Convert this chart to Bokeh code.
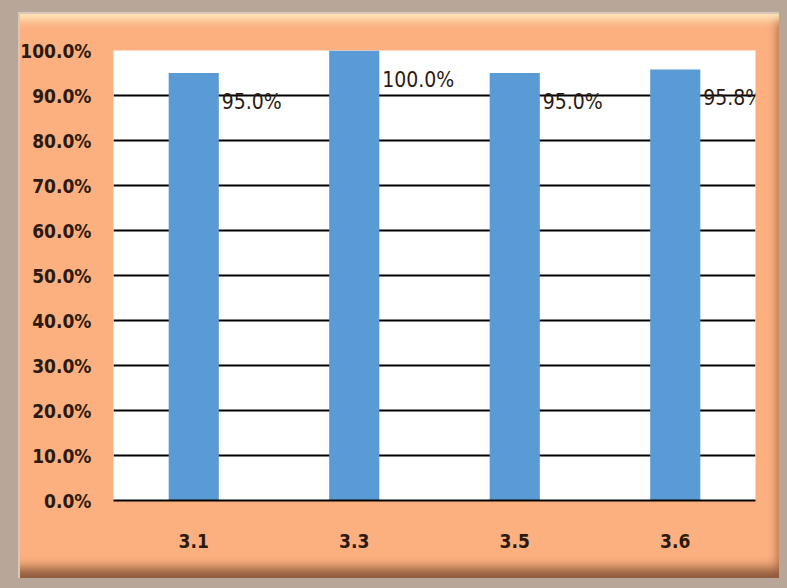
from bokeh.plotting import figure
from bokeh.models import ColumnDataSource, FixedTicker, NumeralTickFormatter, Range1d, FactorRange
from bokeh.core.properties import value
from bokeh.embed import file_html
from bokeh.resources import INLINE

categories = ["3.1", "3.3", "3.5", "3.6"]
rates = [0.95, 1.00, 0.95, 0.958]
labels = ["95.0%", "100.0%", "95.0%", "95.8%"]
y_ticks = [0.0, 0.1, 0.2, 0.3, 0.4, 0.5, 0.6, 0.7, 0.8, 0.9, 1.0]

PEACH = "#FCB07F"
GRAY = "#B8A698"
TEXT = "#2B1A10"
BLUE = "#5B9BD5"
FONT = "DejaVu Sans Condensed"

src = ColumnDataSource(dict(cat=categories, rate=rates, label=labels))

p = figure(
    x_range=FactorRange(*categories, range_padding=0.0),
    y_range=Range1d(0, 1.0),
    width=787, height=588,
    min_border_left=113, min_border_right=32, min_border_top=50, min_border_bottom=88,
    output_backend="svg", toolbar_location=None,
    background_fill_color="white",
    border_fill_color=PEACH, border_fill_alpha=0.0,
    outline_line_color=None,
)
p.styles = {
    "background-color": PEACH,
    "box-shadow": (
        f"inset 18px 0 0 0 {GRAY}, inset 0 12px 0 0 {GRAY}, "
        f"inset -8px 0 0 0 {GRAY}, inset 0 -10px 0 0 {GRAY}, "
        "inset 20px 0 0 0 #D9C7B8, inset 0 14px 0 0 #D9C7B8, "
        "inset 0 26px 10px -6px #FFE8BC, inset 0 -26px 12px -6px #8C5A3C, "
        "inset -16px 0 10px -6px #B0704C"
    ),
}

p.vbar(x="cat", top="rate", width=0.3125, source=src, color=BLUE, line_color=None)

p.text(x="cat", y="rate", text="label", source=src,
       x_offset=28, y_offset=29, text_baseline="middle", text_align="left",
       text_font=value(FONT), text_font_size="21px", text_color=TEXT)

p.xgrid.grid_line_color = None
p.ygrid.ticker = FixedTicker(ticks=y_ticks)
p.ygrid.grid_line_color = "black"
p.ygrid.grid_line_width = 2

p.yaxis.ticker = FixedTicker(ticks=y_ticks)
p.yaxis.formatter = NumeralTickFormatter(format="0.0%")
p.yaxis.axis_line_color = None
p.yaxis.major_tick_line_color = None
p.yaxis.minor_tick_line_color = None
p.yaxis.major_label_standoff = 16

p.xaxis.axis_line_color = "black"
p.xaxis.axis_line_width = 2
p.xaxis.major_tick_line_color = None
p.xaxis.minor_tick_line_color = None
p.xaxis.major_label_standoff = 27

for ax in (p.xaxis, p.yaxis):
    ax.major_label_text_font = FONT
    ax.major_label_text_font_size = "19px"
    ax.major_label_text_font_style = "bold"
    ax.major_label_text_color = TEXT

open("out.html", "w").write(file_html(p, INLINE))
